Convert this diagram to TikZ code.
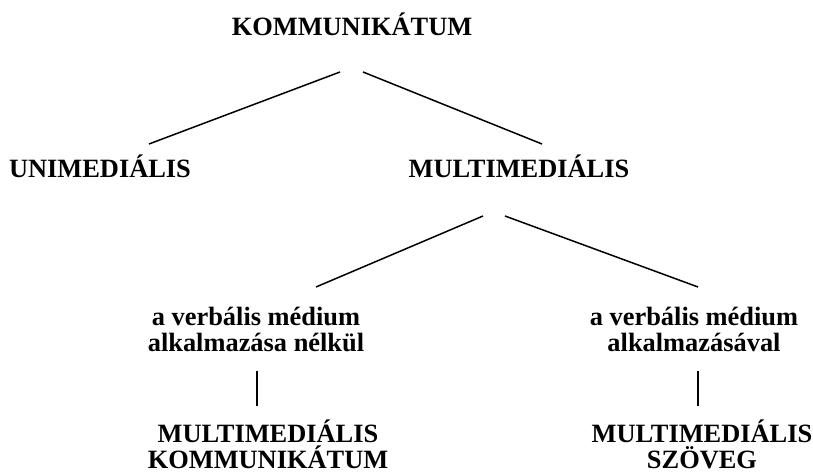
\documentclass[tikz,border=0pt]{standalone}
\usepackage{fontspec}
\setmainfont{Liberation Serif}
\begin{document}
\begin{tikzpicture}[x=1bp,y=-1bp,
  lbl/.style={inner sep=0pt, anchor=base, align=center,
    font=\fontsize{26.4bp}{26bp}\selectfont\bfseries},
  conn/.style={line width=1.5bp}]
\useasboundingbox (0,0) rectangle (813,473);
% texts (multi-line nodes: base anchor is the last line's baseline)
\node[lbl] (kom) at (352,36) {KOMMUNIKÁTUM};
\node[lbl] (uni) at (100,178) {UNIMEDIÁLIS};
\node[lbl] (mul) at (519,178) {MULTIMEDIÁLIS};
\node[lbl] (nel) at (256,352) {a verbális médium\\alkalmazása nélkül};
\node[lbl] (val) at (694,352) {a verbális médium\\alkalmazásával};
\node[lbl] (mk) at (268,468) {MULTIMEDIÁLIS\\KOMMUNIKÁTUM};
\node[lbl] (msz) at (702,468) {MULTIMEDIÁLIS\\SZÖVEG};
% connector end points
\coordinate (k1) at (340,72);
\coordinate (k2) at (363,72);
\coordinate (u1) at (149,144);
\coordinate (m0) at (542,144);
\coordinate (m1) at (483,216);
\coordinate (m2) at (505,216);
\coordinate (n1) at (316,287);
\coordinate (v1) at (698,287);
\coordinate (n2) at (257,371);
\coordinate (n3) at (257,406);
\coordinate (v2) at (698,371);
\coordinate (v3) at (698,406);
\draw[conn] (k1) -- (u1);
\draw[conn] (k2) -- (m0);
\draw[conn] (m1) -- (n1);
\draw[conn] (m2) -- (v1);
\draw[conn] (n2) -- (n3);
\draw[conn] (v2) -- (v3);
\end{tikzpicture}
\end{document}
